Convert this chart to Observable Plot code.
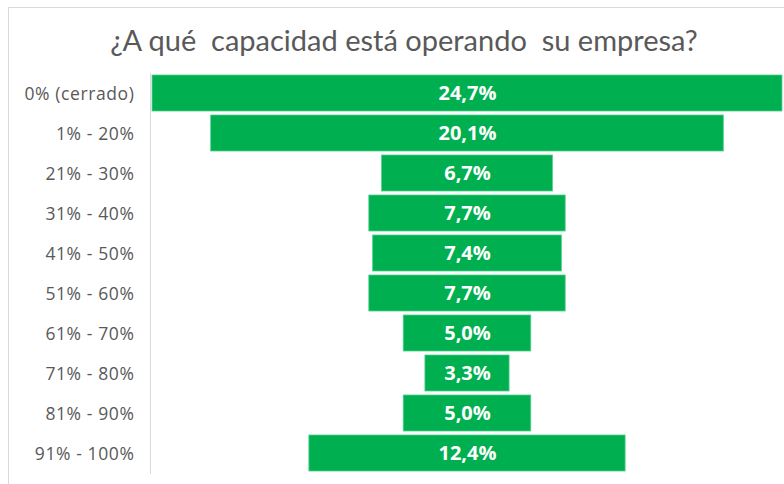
<!DOCTYPE html>
<html>
<head>
<meta charset="utf-8">
<script src="https://cdn.jsdelivr.net/npm/d3@7"></script>
<script src="https://cdn.jsdelivr.net/npm/@observablehq/plot@0.6"></script>
<style>
  html, body { margin: 0; padding: 0; background: #fff; width: 784px; height: 484px; overflow: hidden; }
  #frame { position: absolute; left: 8px; top: 7px; width: 800px; height: 500px; border: 1px solid #d9d9d9; box-sizing: border-box; }
  #title { position: absolute; left: 0; top: 22px; width: 808px; text-align: center; font-family: Lato, "Open Sans", sans-serif; font-size: 29px; color: #595959; white-space: pre; }
  #chart { position: absolute; left: 0; top: 70px; }
  g.ylab text { letter-spacing: 0.6px; }
</style>
</head>
<body>
<div id="frame"></div>
<div id="title">¿A qué  capacidad está operando  su empresa?</div>
<div id="chart"></div>
<script>
const categories = ["0% (cerrado)", "1% - 20%", "21% - 30%", "31% - 40%", "41% - 50%", "51% - 60%", "61% - 70%", "71% - 80%", "81% - 90%", "91% - 100%"];
const values = [24.7, 20.1, 6.7, 7.7, 7.4, 7.7, 5.0, 3.3, 5.0, 12.4];
const valueLabels = ["24,7%", "20,1%", "6,7%", "7,7%", "7,4%", "7,7%", "5,0%", "3,3%", "5,0%", "12,4%"];

const data = categories.map((c, i) => ({cat: c, v: values[i], label: valueLabels[i]}));
const half = 12.43;

const chart = Plot.plot({
  width: 784,
  height: 414,
  marginLeft: 150,
  marginRight: 0,
  marginTop: 3,
  marginBottom: 11,
  style: {fontFamily: "'Open Sans', Lato, sans-serif", background: "transparent"},
  x: {domain: [-half, half], axis: null},
  y: {domain: categories, paddingInner: 0.1, paddingOuter: 0.05, label: null},
  marks: [
    Plot.frame({anchor: "left", stroke: "#d9d9d9"}),
    Plot.axisY({tickSize: 0, tickPadding: 16, fontSize: 17.5, color: "#595959", label: null, dy: 1, className: "ylab"}),
    Plot.barX(data, {y: "cat", x1: d => -d.v / 2, x2: d => d.v / 2, fill: "#00B050", stroke: "#4fd08a", strokeWidth: 0.8}),
    Plot.text(data, {y: "cat", x: 0, text: "label", fill: "white", fontWeight: "bold", fontSize: 20})
  ]
});
document.getElementById("chart").appendChild(chart);
</script>
</body>
</html>
